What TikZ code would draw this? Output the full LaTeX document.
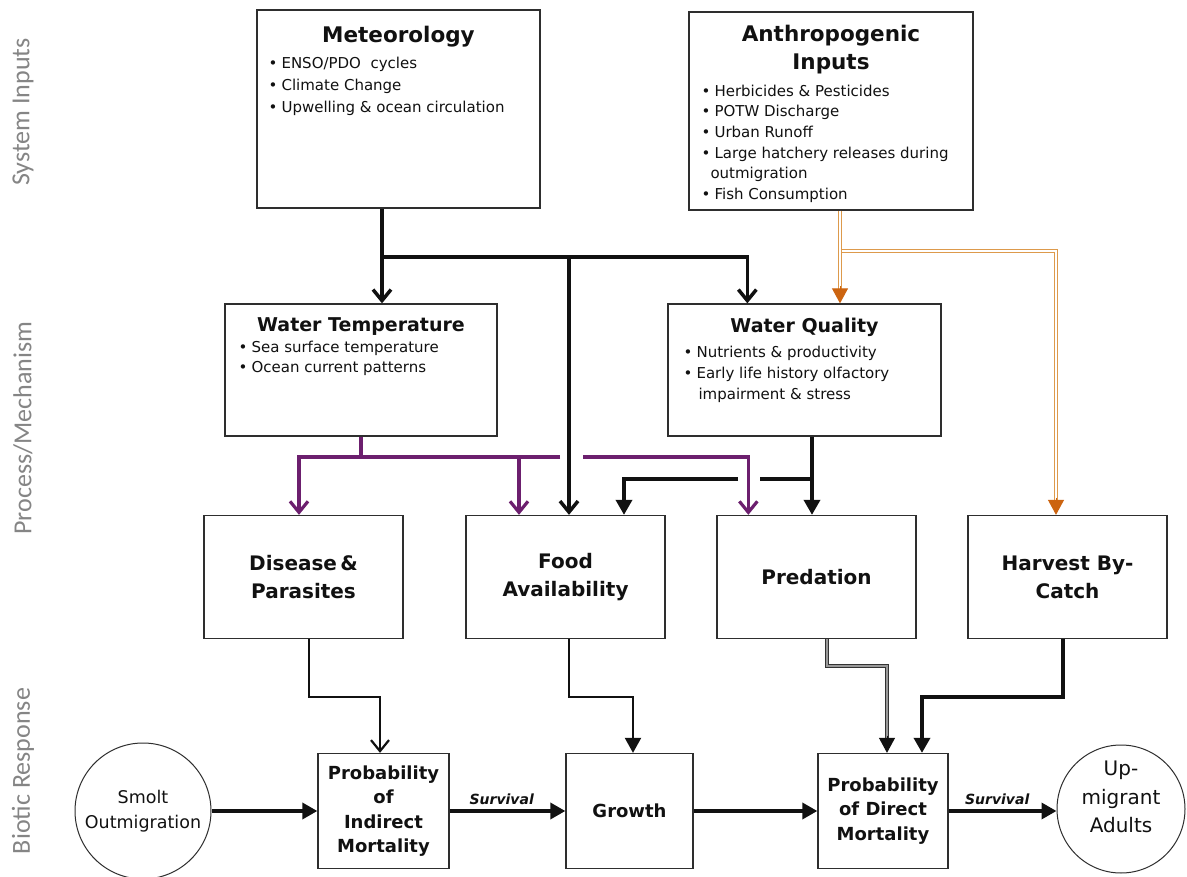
\documentclass[tikz,border=0pt]{standalone}
\usepackage{fontspec}
\setmainfont{DejaVu Sans}
\newfontfamily\sidefont{Carlito}
\usetikzlibrary{arrows.meta}

\definecolor{boxline}{HTML}{2E2E2E}
\definecolor{inkblack}{HTML}{111111}
\definecolor{purp}{HTML}{6C1F6E}
\definecolor{orlight}{HTML}{DD9A4C}
\definecolor{ordark}{HTML}{CC6410}
\definecolor{sidegray}{HTML}{858585}

% bullet with a fixed-width slot
\newcommand\bul{\makebox[13pt][l]{•}}

\tikzset{
  box/.style={draw=boxline, line width=1.3pt, fill=white, inner sep=0pt, text=inkblack},
  ttl/.style={font=\bfseries\fontsize{21.5}{28}\selectfont, inner sep=0pt, anchor=base, text=inkblack},
  subttl/.style={font=\bfseries\fontsize{19}{24}\selectfont, inner sep=0pt, anchor=base, text=inkblack},
  lst/.style={font=\fontsize{15}{#1}\selectfont, align=left, inner sep=0pt, anchor=base west, text=inkblack},
  proc/.style={box, minimum width=199pt, minimum height=123pt, align=center, font=\bfseries\fontsize{20}{28}\selectfont},
  resp/.style={box, minimum height=115pt, align=center, font=\bfseries\fontsize{18}{24.5}\selectfont},
  endpt/.style={circle, draw=boxline, line width=1pt, fill=white, inner sep=0pt, align=center, text=inkblack},
  side/.style={font=\sidefont\fontsize{26}{30}\selectfont, text=sidegray, rotate=90, inner sep=0pt},
  surv/.style={font=\bfseries\itshape\fontsize{14}{16}\selectfont, inner sep=0pt, anchor=base, text=inkblack},
  heavy/.style={draw=inkblack, line width=3.5pt},
  medium/.style={draw=inkblack, line width=2.2pt},
  purpline/.style={draw=purp, line width=3.2pt},
  openhead/.style={-{Straight Barb[length=11pt,width=18pt]}},
  solidhead/.style={-{Triangle[length=15pt,width=16pt]}},
  ordouble/.style={draw=orlight, double=white, line width=1.1pt, double distance=1.6pt},
  grdouble/.style={draw=black!80, double=black!40, line width=1pt, double distance=2pt},
}

\begin{document}
\begin{tikzpicture}[x=1pt, y=-1pt, line join=miter]
\useasboundingbox (0,0) rectangle (1187,877);
\fill[white] (0,0) rectangle (1187,877);

% ---- tier labels
\node[side] (lab-in) at (23,112) {System Inputs};
\node[side] (lab-pm) at (23,428) {Process/Mechanism};
\node[side] (lab-br) at (23,771) {Biotic Response};

% ---- system inputs (multi-line text nodes sit on the baseline of their last line)
\node[box, minimum width=283pt, minimum height=198pt] (met) at (398.5,109) {};
\node[ttl] (met-t) at ([yshift=-33]met.north) {Meteorology};
\node[lst=22] (met-l) at ([xshift=12,yshift=-103]met.north west)
  {\bul ENSO/PDO~ cycles\\ \bul Climate Change\\ \bul Upwelling \& ocean circulation};

\node[box, minimum width=284pt, minimum height=198pt] (anth) at (831,111) {};
\node[ttl, align=center] (anth-t) at ([yshift=-58]anth.north) {Anthropogenic\\Inputs};
\node[lst=20.6] (anth-l) at ([xshift=13,yshift=-188]anth.north west)
  {\bul Herbicides \& Pesticides\\ \bul POTW Discharge\\ \bul Urban Runoff\\
   \bul Large hatchery releases during\\ \hspace*{9pt}outmigration\\ \bul Fish Consumption};

% ---- processes / mechanisms
\node[box, minimum width=272pt, minimum height=132pt] (wt) at (361,370) {};
\node[subttl] (wt-t) at ([yshift=-28]wt.north) {Water Temperature};
\node[lst=20] (wt-l) at ([xshift=14,yshift=-69]wt.north west)
  {\bul Sea surface temperature\\ \bul Ocean current patterns};

\node[box, minimum width=273pt, minimum height=132pt] (wq) at (804.5,370) {};
\node[subttl] (wq-t) at ([yshift=-29]wq.north) {Water Quality};
\node[lst=21] (wq-l) at ([xshift=16,yshift=-96]wq.north west)
  {\bul Nutrients \& productivity\\ \bul Early life history olfactory\\ \hspace*{15pt}impairment \& stress};

\node[proc] (dis)  at (303.5,577)  {Disease\,\&\\Parasites};
\node[proc] (food) at (565.5,577)  {Food\\Availability};
\node[proc] (pred) at (816.5,577)  {Predation};
\node[proc] (harv) at (1067.5,577) {Harvest By-\\Catch};

% ---- biotic response
\node[endpt, minimum size=136pt, font=\fontsize{17.5}{25}\selectfont] (smolt) at (143,811) {Smolt\\Outmigration};
\node[resp, minimum width=131pt] (pind)   at (383.5,811) {Probability\\of\\Indirect\\Mortality};
\node[resp, minimum width=127pt] (growth) at (629.5,811) {Growth};
\node[resp, minimum width=130pt] (pdir)   at (883,811)   {Probability\\of Direct\\Mortality};
\node[endpt, minimum size=128pt] (adults) at (1121,809) {};
\node[align=center, inner sep=0pt, text=inkblack, font=\fontsize{20}{28.5}\selectfont] (adults-t)
  at ([yshift=12]adults.center) {Up-\\migrant\\Adults};

% ---- meteorology drivers
\coordinate (mj) at (382,257);
\coordinate (fin) at ([xshift=3.5]food.north);
\coordinate (qin) at ([xshift=80]wq.north west);
\draw[heavy, openhead] (met.south -| mj) -- (wt.north -| mj);
\draw[heavy, openhead] ([xshift=-1.75]mj) -| (qin);
\draw[heavy, openhead] (mj -| fin) -- (fin);

% ---- water temperature effects
\coordinate (pj) at (361,457);
\coordinate (pgl) at (560,457);
\coordinate (pgr) at (583,457);
\coordinate (pdis) at ([xshift=-4.5]dis.north);
\coordinate (pfood) at ([xshift=-46.5]food.north);
\coordinate (ppred) at ([xshift=32]pred.north west);
\draw[purpline] (wt.south) -- (pj);
\draw[purpline, openhead] (pgl) -| (pdis);
\draw[purpline, openhead] (pj -| pfood) -- (pfood);
\draw[purpline, openhead] (pgr) -| (ppred);

% ---- water quality effects
\coordinate (qout) at ([xshift=-4.5]pred.north);
\coordinate (qgr) at (760,479);
\coordinate (qgl) at (738,479);
\coordinate (qfood) at ([xshift=58.5]food.north);
\draw[heavy, solidhead] (wq.south -| qout) -- (qout);
\draw[heavy] (qgr -| qout) -- (qgr);
\draw[heavy, solidhead] (qgl) -| (qfood);

% ---- anthropogenic inputs
\coordinate (oin) at ([xshift=35.5]wq.north);
\coordinate (oj) at (841.75,251);
\coordinate (hin) at ([xshift=-11.5]harv.north);
\draw[ordouble] (anth.south -| oin) -- ([yshift=14]oin);
\draw[ordouble] (oj) -| ([yshift=14]hin);
\draw[ordark, solidhead, line width=1pt] ([yshift=17]oin) -- (oin);
\draw[ordark, solidhead, line width=1pt] ([yshift=17]hin) -- (hin);

% ---- mechanisms to responses
\coordinate (by) at (0,697);
\coordinate (dout) at ([xshift=5.5]dis.south);
\coordinate (din) at ([xshift=-3.5]pind.north);
\draw[medium, openhead] (dout) -- (dout |- by) -| (din);

\coordinate (fout) at ([xshift=3.5]food.south);
\coordinate (gin) at ([xshift=3.5]growth.north);
\draw[medium, solidhead] (fout) -- (fout |- by) -| (gin);

\coordinate (pout) at ([xshift=10.5]pred.south);
\coordinate (pb) at (0,666);
\coordinate (pdin) at ([xshift=4]pdir.north);
\draw[grdouble] (pout) -- (pout |- pb) -| ([yshift=14]pdin);
\draw[inkblack, solidhead, line width=1pt] ([yshift=17]pdin) -- (pdin);

\coordinate (hout) at ([xshift=-4.5]harv.south);
\coordinate (hdin) at ([xshift=39]pdir.north);
\draw[heavy, solidhead] (hout) -- (hout |- by) -| (hdin);

% ---- life-stage sequence
\draw[heavy, solidhead] (smolt) -- (pind);
\draw[heavy, solidhead] (pind) -- node[surv, pos=0.45, yshift=7] (surv1) {Survival} (growth);
\draw[heavy, solidhead] (growth) -- (pdir);
\draw[heavy, solidhead] (pdir.east) -- node[surv, pos=0.45, yshift=7] (surv2) {Survival} (pdir.east -| adults.west);
\end{tikzpicture}
\end{document}
